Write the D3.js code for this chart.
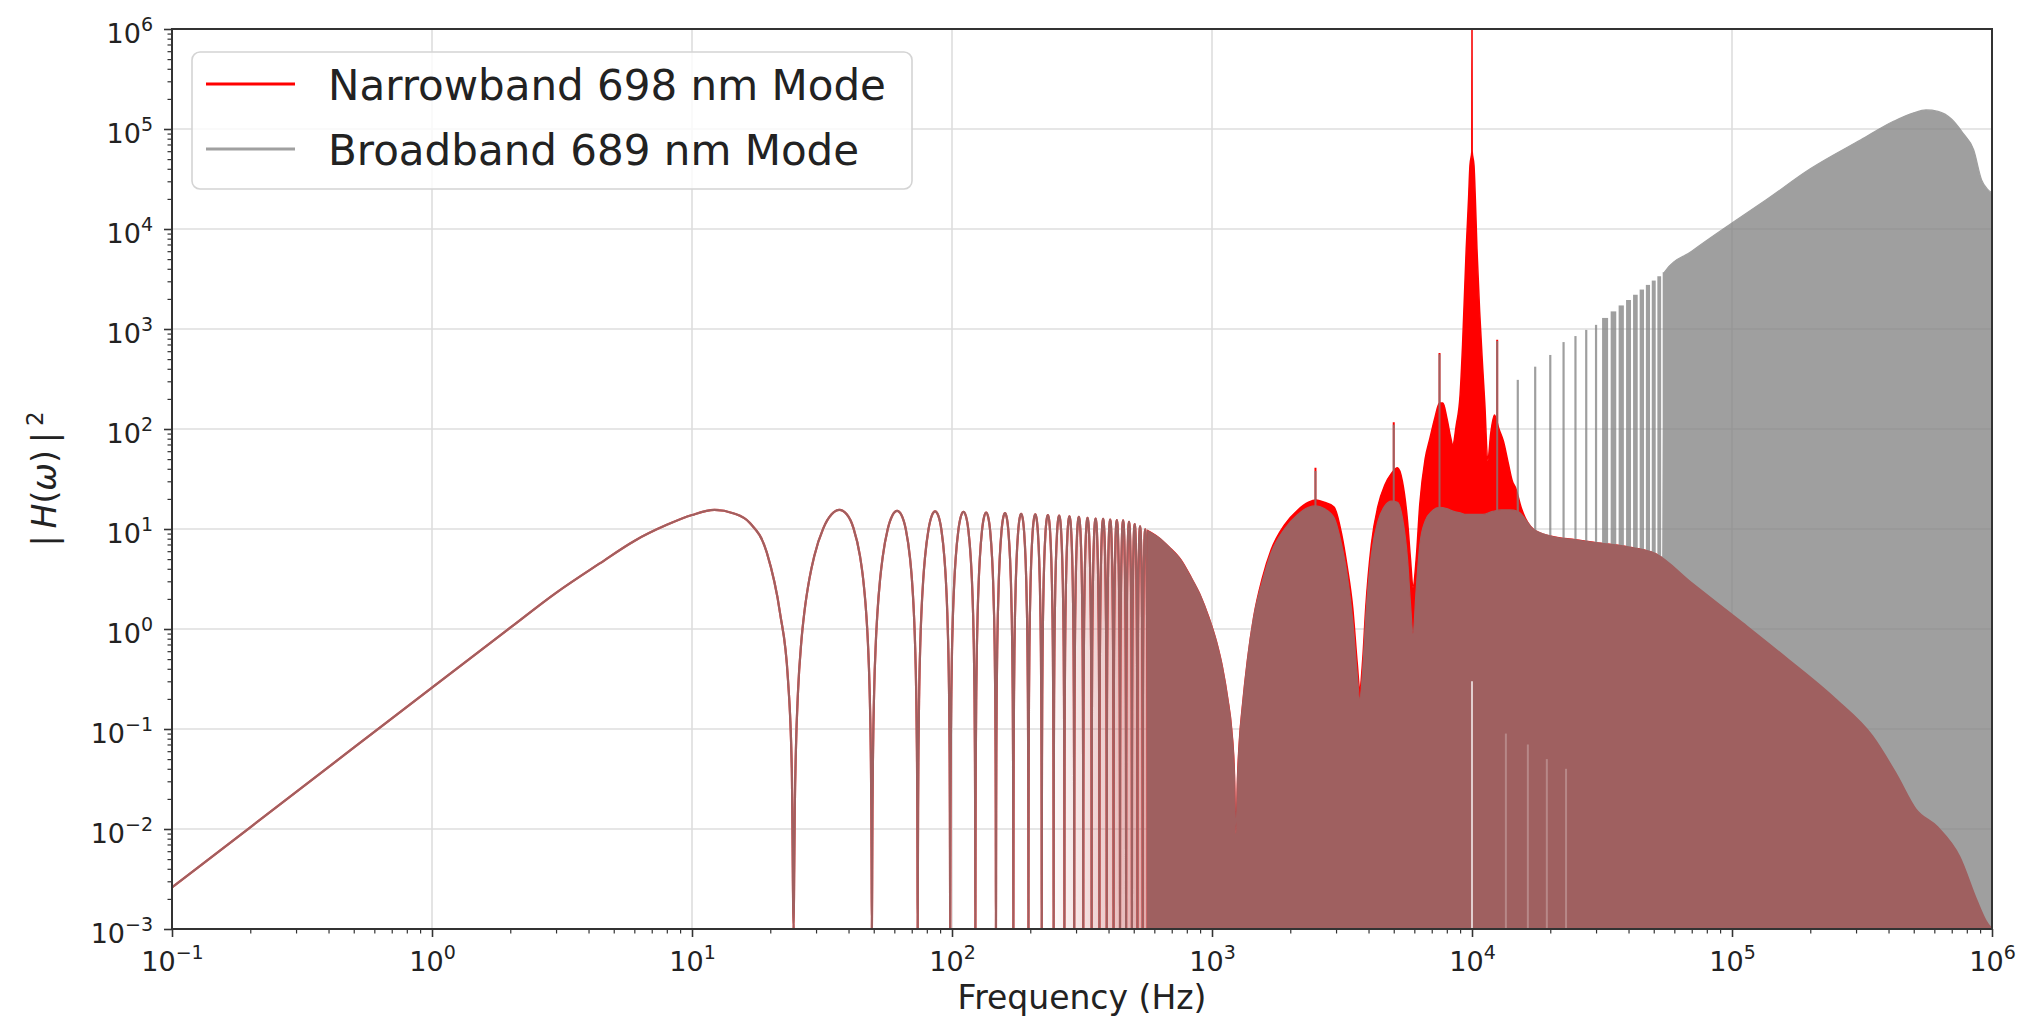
<!DOCTYPE html>
<html><head><meta charset="utf-8">
<script src="https://cdn.jsdelivr.net/npm/d3@7"></script>
<style>
body{margin:0;background:#fff;}
svg{display:block;font-family:"DejaVu Sans",sans-serif;}
</style></head><body>
<svg id="chart" width="2033" height="1032"></svg>
<script>
// ---------------- data ----------------
const seriesNames = ["Narrowband 698 nm Mode", "Broadband 689 nm Mode"];
const xLabel = "Frequency (Hz)";
const xTickExponents = [-1, 0, 1, 2, 3, 4, 5, 6];
const yTickExponents = [-3, -2, -1, 0, 1, 2, 3, 4, 5, 6];

// first lobe (identical for both modes)
const firstLobe = [[0.1,0.0026],[0.2,0.0104],[0.5,0.065],[1,0.26],[2,1.03],[3,2.3],[4.4,4.5],[6,7.6],[8,11],[10,13.8],[12.2,15.5],[14.5,14.3],[16.7,11.5],[19.4,5.8],[21.8,1.45],[23.4,0.31],[24.2,0.04],[24.6,0]];
// zeros of the resolved lobes (Hz) and their peak heights
const lobeZeros = [24.6,49.2,73.8,98.4,123.0,147.6,172.2,196.8,221.4,246.0,270.6,295.2,319.8,344.4,369.0,393.6,418.2,442.8,467.4,492.0,516.6,541.2,565.8];
const lobePeaks = [15.5,15.2,15.0,14.8,14.6,14.4,14.2,14.0,13.8,13.6,13.4,13.2,12.9,12.7,12.6,12.4,12.3,12.2,11.8,11.2,10.6,9.9];
// measured lobe profile: position inside the lobe and height relative to its peak
const lobeShapeT = [0,0.005,0.01,0.02,0.04,0.07,0.1,0.15,0.2,0.3,0.4,0.5,0.6,0.7,0.8,0.85,0.9,0.93,0.96,0.98,0.99,0.995,1];
const lobeShapeR = [0,0.00025,0.001,0.0039,0.0157,0.0476,0.0955,0.206,0.345,0.655,0.905,1,0.905,0.655,0.345,0.206,0.0955,0.0476,0.0157,0.0039,0.001,0.00025,0];

// upper envelope of the dense part, narrowband (red)
const nbEnvelope = [[565.8,9.6],[620,8.3],[684,6.6],[760,4.9],[830,3.3],[900,2.2],[973,1.3],[1040,0.75],[1096,0.42],[1150,0.2],[1190,0.1],[1220,0.035],[1236,0.009],[1255,0.035],[1280,0.09],[1303,0.15],[1370,0.5],[1445,1.3],[1560,3.2],[1688,6.2],[1900,11],[2138,15.5],[2350,18.5],[2512,19.5],[2700,18.5],[2946,16.6],[3150,9],[3311,4.2],[3480,1.6],[3620,0.45],[3700,0.25],[3800,0.5],[3900,1.6],[4100,7],[4350,17],[4620,27.5],[4900,36],[5170,41],[5400,30],[5650,12],[5800,5],[5930,2.6],[6100,5],[6300,18],[6600,50],[6890,81],[7200,130],[7500,182],[7730,182],[8000,130],[8300,80],[8430,69],[8700,110],[9000,220],[9200,700],[9500,6300],[9700,20000],[9820,43000],[9985,60000],[10000,1000000],[10015,60000],[10180,43000],[10300,20000],[10450,6300],[10700,1500],[11000,400],[11200,180],[11500,48],[11800,90],[12200,138],[12700,100],[13200,76],[13800,45],[14300,30],[14700,26],[15500,16],[17200,10],[20000,8.5],[25000,7.8],[30000,7.3],[40000,6.6],[50600,5.7],[70000,2.9],[110000,1.15],[161000,0.52],[250000,0.2],[347000,0.085],[430000,0.035],[510000,0.0158],[617000,0.0105],[751000,0.0053],[877000,0.0019],[950000,0.0012],[1000000,0.001]];

// upper envelope of the dense part, broadband (grey)
const bbEnvelope = [[565.8,9.6],[620,8.3],[684,6.6],[760,4.9],[830,3.3],[900,2.2],[973,1.3],[1040,0.75],[1096,0.42],[1150,0.2],[1190,0.1],[1220,0.035],[1236,0.009],[1255,0.035],[1280,0.09],[1303,0.15],[1370,0.5],[1445,1.3],[1560,3.0],[1688,5.8],[1900,10],[2138,14],[2350,16.5],[2512,17],[2700,16],[2946,13],[3150,7],[3311,3.5],[3480,1.2],[3620,0.35],[3700,0.2],[3800,0.4],[3900,1.3],[4100,5.5],[4350,12],[4620,17],[4900,19],[5170,18.5],[5400,13],[5650,5],[5800,1.8],[5930,0.9],[6100,2.5],[6300,7],[6600,12],[7000,15],[7500,16.5],[8000,16],[8500,15],[9000,14.5],[9500,14],[10000,14],[11000,14],[12000,15],[13000,15.5],[14000,15.5],[15000,15],[17200,10],[20000,8.5],[25000,7.8],[30000,7.3],[40000,6.6],[50600,5.7],[54200,5.2],[55000,3700],[70000,6000],[100000,11500],[135000,19500],[200000,40000],[313000,78000],[420000,120000],[500000,145000],[557000,155000],[620000,150000],[700000,125000],[773000,91000],[850000,62000],[912000,31000],[960000,25000],[1000000,23000]];

// narrow sidebands present in both modes
const sidebandFreqs = [2500, 5000, 7500, 12500];
const nbSidebandTops = [41, 117, 575, 780];
const bbSidebandTops = [38, 110, 560, 760];

// comb of narrow broadband peaks
const bbCombFreqs = [15000,17500,20000,22500,25000,27500,30000,32500,35000,37500,40000,42500,45000,47500,50000,52500,55000];
const bbCombTops  = [310,420,550,740,850,980,1100,1290,1500,1720,1950,2200,2480,2760,3050,3370,3700];

// deep notches visible as light lines inside the filled region
const gapFreqs = [10000, 13500, 16400, 19400, 23000];
const gapTops  = [0.3, 0.09, 0.07, 0.05, 0.04];

// ---------------- drawing ----------------
const svg = d3.select("#chart");
const X0 = 172, X1 = 1992, Y0 = 29, Y1 = 929;
const x = d3.scaleLog().domain([0.1, 1e6]).range([X0, X1]);
const y = d3.scaleLog().domain([1e-3, 1e6]).range([Y1, Y0]);
const FLOOR = 1e-3;
const yv = v => y(Math.max(v, FLOOR));

const majorX = xTickExponents.map(e => Math.pow(10, e));
const majorY = yTickExponents.map(e => Math.pow(10, e));
const minorX = [], minorY = [];
for (let e = -1; e < 6; e++) for (let k = 2; k < 10; k++) minorX.push(k * Math.pow(10, e));
for (let e = -3; e < 6; e++) for (let k = 2; k < 10; k++) minorY.push(k * Math.pow(10, e));

const defs = svg.append("defs");
defs.append("clipPath").attr("id", "plotclip")
  .append("rect").attr("x", X0).attr("y", Y0).attr("width", X1 - X0).attr("height", Y1 - Y0);
// the densely packed lobes blur into a pinkish band before becoming solid
const grad = defs.append("linearGradient").attr("id", "denseLobes")
  .attr("gradientUnits", "userSpaceOnUse")
  .attr("x1", x(230)).attr("x2", x(565.8)).attr("y1", 0).attr("y2", 0);
grad.append("stop").attr("offset", 0).attr("stop-color", "#c86464").attr("stop-opacity", 0);
grad.append("stop").attr("offset", 1).attr("stop-color", "#c86464").attr("stop-opacity", 0.55);

// grid
const grid = svg.append("g").attr("stroke", "#dedede").attr("stroke-width", 1.6);
grid.selectAll(".gx").data(majorX).join("line")
  .attr("x1", d => x(d)).attr("x2", d => x(d)).attr("y1", Y0).attr("y2", Y1);
grid.selectAll(".gy").data(majorY).join("line")
  .attr("y1", d => y(d)).attr("y2", d => y(d)).attr("x1", X0).attr("x2", X1);

// lobe points from the read zeros / peaks / profile
const lobePts = [];
lobePeaks.forEach((p, i) => {
  const z0 = lobeZeros[i], z1 = lobeZeros[i + 1];
  lobeShapeT.forEach((t, j) => { if (j > 0) lobePts.push([z0 + t * (z1 - z0), p * lobeShapeR[j]]); });
});
const lowLine = firstLobe.concat(lobePts);

const line = d3.line().x(d => x(d[0])).y(d => yv(d[1])).curve(d3.curveMonotoneX);
const area = d3.area().x(d => x(d[0])).y0(y(FLOOR)).y1(d => yv(d[1])).curve(d3.curveMonotoneX);

const plot = svg.append("g").attr("clip-path", "url(#plotclip)");

// blurred interior of the dense lobes
plot.append("path").attr("d", area(lobePts.filter(d => d[0] >= 221.4))).attr("fill", "url(#denseLobes)");

// narrowband (red)
const gRed = plot.append("g");
gRed.append("path").attr("d", line(lowLine)).attr("fill", "none").attr("stroke", "#ff0000").attr("stroke-width", 2.2);
gRed.append("path").attr("d", area(nbEnvelope)).attr("fill", "#ff0000").attr("stroke", "#ff0000").attr("stroke-width", 1.5);
gRed.selectAll(".sb").data(sidebandFreqs).join("line")
  .attr("x1", d => x(d)).attr("x2", d => x(d)).attr("y1", y(FLOOR)).attr("y2", (d, i) => yv(nbSidebandTops[i]))
  .attr("stroke", "#ff0000").attr("stroke-width", 2);

// broadband (grey, drawn on top with transparency)
const gGrey = plot.append("g").attr("opacity", 0.75);
gGrey.append("path").attr("d", line(lowLine)).attr("fill", "none").attr("stroke", "#808080").attr("stroke-width", 2.2);
gGrey.append("path").attr("d", area(bbEnvelope)).attr("fill", "#808080").attr("stroke", "#808080").attr("stroke-width", 1.2);
gGrey.selectAll(".sb").data(sidebandFreqs).join("line")
  .attr("x1", d => x(d)).attr("x2", d => x(d)).attr("y1", y(FLOOR)).attr("y2", (d, i) => yv(bbSidebandTops[i]))
  .attr("stroke", "#808080").attr("stroke-width", 2);
const combWidth = d => {
  const sp = x(d + 2500) - x(d);
  return d <= 30000 ? 2.2 : Math.max(2.2, sp * 0.72);
};
gGrey.selectAll(".comb").data(bbCombFreqs).join("rect")
  .attr("x", d => x(d) - combWidth(d) / 2)
  .attr("width", d => combWidth(d))
  .attr("y", (d, i) => yv(bbCombTops[i]))
  .attr("height", (d, i) => y(FLOOR) - yv(bbCombTops[i]))
  .attr("fill", "#808080");

// light notch lines
plot.selectAll(".gap").data(gapFreqs).join("line")
  .attr("x1", d => x(d)).attr("x2", d => x(d)).attr("y1", y(FLOOR)).attr("y2", (d, i) => yv(gapTops[i]))
  .attr("stroke", "#ffffff").attr("stroke-width", 2).attr("opacity", (d, i) => i === 0 ? 0.7 : 0.25);

// axes (ticks) -----------------------------------------------------
const supText = (sel) => {
  sel.selectAll(".tick text").each(function (d) {
    const e = Math.round(Math.log10(d));
    const t = d3.select(this).text("");
    t.append("tspan").text("10");
    t.append("tspan").attr("dy", -12).attr("font-size", 19).text(e < 0 ? "\u2212" + (-e) : String(e));
  });
};

const xAxis = svg.append("g").attr("transform", `translate(0,${Y1})`)
  .call(d3.axisBottom(x).tickValues(majorX).tickSize(8).tickPadding(6).tickFormat(d => String(d)));
xAxis.select(".domain").remove();
xAxis.selectAll(".tick line").attr("stroke", "#333").attr("stroke-width", 1.6);
xAxis.selectAll(".tick text").attr("font-size", 27).attr("fill", "#222").attr("dy", null).attr("y", 42)
  .attr("font-family", "DejaVu Sans");
supText(xAxis);

const xMinor = svg.append("g").attr("transform", `translate(0,${Y1})`)
  .call(d3.axisBottom(x).tickValues(minorX).tickSize(4.5).tickFormat(""));
xMinor.select(".domain").remove();
xMinor.selectAll(".tick line").attr("stroke", "#333").attr("stroke-width", 1.2);

const yAxis = svg.append("g").attr("transform", `translate(${X0},0)`)
  .call(d3.axisLeft(y).tickValues(majorY).tickSize(8).tickPadding(11).tickFormat(d => String(d)));
yAxis.select(".domain").remove();
yAxis.selectAll(".tick line").attr("stroke", "#333").attr("stroke-width", 1.6);
yAxis.selectAll(".tick text").attr("font-size", 27).attr("fill", "#222").attr("dy", null).attr("y", 13.5)
  .attr("font-family", "DejaVu Sans");
supText(yAxis);

const yMinor = svg.append("g").attr("transform", `translate(${X0},0)`)
  .call(d3.axisLeft(y).tickValues(minorY).tickSize(4.5).tickFormat(""));
yMinor.select(".domain").remove();
yMinor.selectAll(".tick line").attr("stroke", "#333").attr("stroke-width", 1.2);

// frame
svg.append("rect").attr("x", X0).attr("y", Y0).attr("width", X1 - X0).attr("height", Y1 - Y0)
  .attr("fill", "none").attr("stroke", "#333").attr("stroke-width", 2);

// axis labels
svg.append("text").attr("x", (X0 + X1) / 2).attr("y", 1009).attr("text-anchor", "middle")
  .attr("font-size", 33).attr("fill", "#222").text(xLabel);

const yl = svg.append("text").attr("transform", `translate(56,${(Y0 + Y1) / 2}) rotate(-90)`)
  .attr("text-anchor", "middle").attr("font-size", 33).attr("fill", "#222");
yl.append("tspan").text("|");
yl.append("tspan").attr("dx", 7).attr("font-style", "italic").text("H");
yl.append("tspan").text("(");
yl.append("tspan").attr("font-style", "italic").text("\u03c9");
yl.append("tspan").text(")");
yl.append("tspan").attr("dx", 7).text("|");
yl.append("tspan").attr("dx", 6).attr("dy", -13).attr("font-size", 23).text("2");

// legend
const lg = svg.append("g");
lg.append("rect").attr("x", 192).attr("y", 52).attr("width", 720).attr("height", 137).attr("rx", 8)
  .attr("fill", "#fff").attr("fill-opacity", 0.8).attr("stroke", "#d4d4d4").attr("stroke-width", 1.6);
const legendColors = ["#ff0000", "#808080"];
const legendOpacity = [1, 0.75];
seriesNames.forEach((name, i) => {
  const cy = 84 + i * 65;
  lg.append("line").attr("x1", 206).attr("x2", 295).attr("y1", cy).attr("y2", cy)
    .attr("stroke", legendColors[i]).attr("stroke-opacity", legendOpacity[i]).attr("stroke-width", 3);
  lg.append("text").attr("x", 328).attr("y", cy + 16).attr("font-size", 42).attr("fill", "#222").text(name);
});
</script>
</body></html>
